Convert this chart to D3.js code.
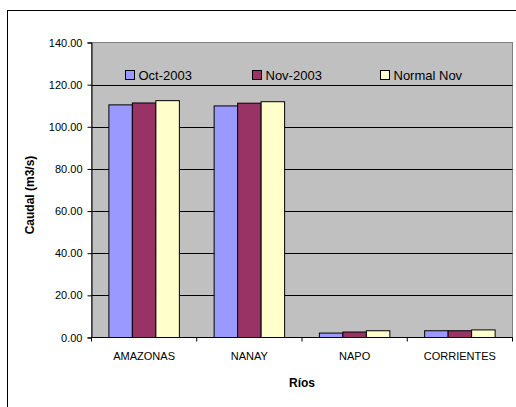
<!DOCTYPE html>
<html><head><meta charset="utf-8">
<script src="https://cdn.jsdelivr.net/npm/d3@7"></script>
<style>body{margin:0;background:#fff}svg{display:block;font-family:"Liberation Sans",Arial,sans-serif}</style>
</head><body><svg id="c" width="516" height="407"></svg>
<script>
const categories = ["AMAZONAS","NANAY","NAPO","CORRIENTES"];
const seriesNames = ["Oct-2003","Nov-2003","Normal Nov"];
const oct2003 = [110.4, 109.9, 2.1, 3.2];
const nov2003 = [111.3, 111.2, 2.6, 3.2];
const normalNov = [112.4, 111.9, 3.2, 3.6];
const yTicks = [0,20,40,60,80,100,120,140];
const colors = ["#9999FF","#993366","#FFFFCC"];
const seriesValues = [oct2003, nov2003, normalNov];

const svg = d3.select("#c");
// outer frame
svg.append("rect").attr("x",7.5).attr("y",10.5).attr("width",520).attr("height",420)
  .attr("fill","#fff").attr("stroke","#000").attr("stroke-width",1);

const m = {l:91.5, t:42.5, r:512.5, b:337.5};
const x = d3.scaleBand().domain(categories).range([m.l, m.r]);
const xs = d3.scaleBand().domain(seriesNames).range([0, x.bandwidth()]).paddingOuter(0.74).paddingInner(0);
const y = d3.scaleLinear().domain([0,140]).range([m.b, m.t]);

svg.append("rect").attr("x",m.l).attr("y",m.t).attr("width",m.r-m.l).attr("height",m.b-m.t)
  .attr("fill","#C0C0C0").attr("stroke","#808080");

// gridlines
svg.append("g").selectAll("line").data(yTicks.filter(d=>d>0 && d<140)).join("line")
  .attr("x1",m.l).attr("x2",m.r).attr("y1",d=>Math.round(y(d))+0.5).attr("y2",d=>Math.round(y(d))+0.5)
  .attr("stroke","#000");

// bars
const data = [];
categories.forEach((c,i)=>seriesNames.forEach((s,j)=>data.push({c,s,v:seriesValues[j][i],j})));
svg.append("g").selectAll("rect").data(data).join("rect")
  .attr("x",d=>x(d.c)+xs(d.s)).attr("width",xs.bandwidth())
  .attr("y",d=>y(d.v)).attr("height",d=>y(0)-y(d.v))
  .attr("fill",d=>colors[d.j]).attr("stroke","#000").attr("stroke-width",1);

// y axis
const ya = d3.axisLeft(y).tickValues(yTicks).tickFormat(d3.format(".2f")).tickSize(4).tickPadding(5);
const gy = svg.append("g").attr("transform",`translate(${m.l},0)`).call(ya);
gy.select(".domain").attr("stroke","#000");
gy.selectAll("line").attr("stroke","#000");
gy.selectAll("text").attr("font-size","11px").attr("fill","#000").attr("font-family","Liberation Sans, Arial, sans-serif");

// x axis
const gx = svg.append("g").attr("transform",`translate(0,${m.b})`);
gx.append("line").attr("x1",m.l).attr("x2",m.r).attr("y1",0).attr("y2",0).attr("stroke","#000");
const bounds = categories.map(c=>x(c)).concat([m.r]);
gx.selectAll(".tk").data(bounds).join("line").attr("class","tk")
  .attr("x1",d=>d).attr("x2",d=>d).attr("y1",0).attr("y2",4).attr("stroke","#000");
gx.selectAll("text").data(categories).join("text")
  .attr("x",d=>x(d)+x.bandwidth()/2).attr("y",22).attr("text-anchor","middle")
  .attr("font-size","11px").attr("fill","#000").text(d=>d);

// axis titles
svg.append("text").attr("x",302).attr("y",387).attr("text-anchor","middle")
  .attr("font-size","12px").attr("font-weight","bold").text("Ríos");
svg.append("text").attr("transform","translate(34,195) rotate(-90)").attr("text-anchor","middle")
  .attr("font-size","12px").attr("font-weight","bold").text("Caudal (m3/s)");

// legend
const legX = [125.5, 252.5, 380.5];
const lg = svg.append("g").selectAll("g").data(seriesNames).join("g")
  .attr("transform",(d,i)=>`translate(${legX[i]},70.5)`);
lg.append("rect").attr("width",9).attr("height",9).attr("fill",(d,i)=>colors[i]).attr("stroke","#000");
lg.append("text").attr("x",13).attr("y",9.5).attr("font-size","13px").attr("fill","#000").text(d=>d);
</script></body></html>
